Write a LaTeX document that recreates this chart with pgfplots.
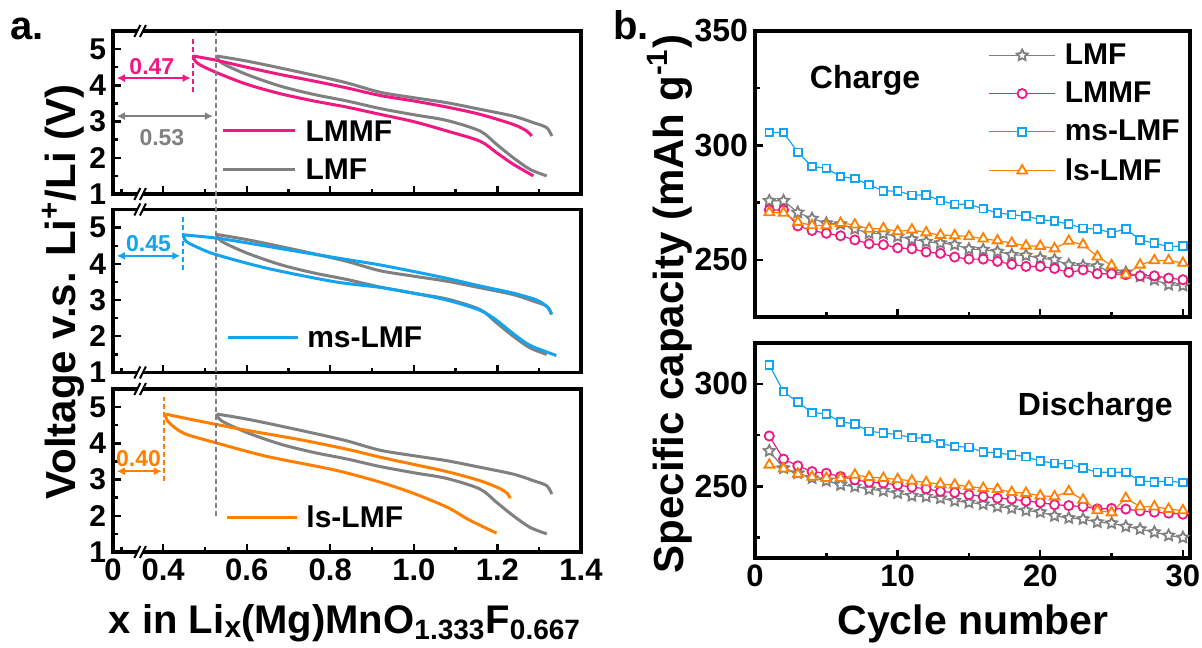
\documentclass[border=0pt]{standalone}
\usepackage{fontspec}
\setmainfont{Liberation Sans}
\usepackage{pgfplots}
\usepackage{pgfplotstable}
\pgfplotsset{compat=1.18}
\usetikzlibrary{arrows.meta,plotmarks}

\definecolor{cgray}{HTML}{808080}
\definecolor{cpink}{HTML}{F01882}
\definecolor{cblue}{HTML}{12A4EE}
\definecolor{corange}{HTML}{FF8000}

\newcommand{\fs}[1]{\fontsize{#1}{#1}\selectfont\bfseries}

% open five-pointed star
\pgfdeclareplotmark{ostar}{%
  \pgfpathmoveto{\pgfpointpolar{90}{\pgfplotmarksize}}%
  \pgfpathlineto{\pgfpointpolar{126}{0.5\pgfplotmarksize}}%
  \pgfpathlineto{\pgfpointpolar{162}{\pgfplotmarksize}}%
  \pgfpathlineto{\pgfpointpolar{198}{0.5\pgfplotmarksize}}%
  \pgfpathlineto{\pgfpointpolar{234}{\pgfplotmarksize}}%
  \pgfpathlineto{\pgfpointpolar{270}{0.5\pgfplotmarksize}}%
  \pgfpathlineto{\pgfpointpolar{306}{\pgfplotmarksize}}%
  \pgfpathlineto{\pgfpointpolar{342}{0.5\pgfplotmarksize}}%
  \pgfpathlineto{\pgfpointpolar{18}{\pgfplotmarksize}}%
  \pgfpathlineto{\pgfpointpolar{54}{0.5\pgfplotmarksize}}%
  \pgfpathclose\pgfusepathqfillstroke}

% voltage profiles (x in Li_x, V)
\pgfplotstableread{
x y
0.528 4.81
0.600 4.67
0.680 4.48
0.760 4.28
0.839 4.07
0.919 3.81
0.999 3.66
1.079 3.52
1.158 3.34
1.238 3.15
1.286 2.97
1.318 2.83
1.330 2.60
}\lmfup
\pgfplotstableread{
x y
0.528 4.81
0.540 4.62
0.600 4.30
0.680 3.98
0.760 3.75
0.839 3.57
0.919 3.36
0.999 3.19
1.079 3.03
1.158 2.74
1.198 2.37
1.238 2.00
1.278 1.68
1.318 1.50
}\lmflo
\pgfplotstableread{
x y
0.472 4.81
0.528 4.69
0.600 4.50
0.680 4.30
0.760 4.12
0.839 3.93
0.919 3.72
0.999 3.57
1.079 3.40
1.158 3.20
1.238 2.92
1.270 2.74
1.282 2.60
}\lmmfup
\pgfplotstableread{
x y
0.472 4.81
0.476 4.68
0.489 4.56
0.528 4.35
0.600 4.03
0.680 3.77
0.760 3.57
0.839 3.40
0.919 3.20
0.999 3.00
1.079 2.74
1.158 2.46
1.198 2.14
1.238 1.82
1.286 1.50
}\lmmflo
\pgfplotstableread{
x y
0.449 4.80
0.528 4.71
0.600 4.58
0.728 4.33
0.839 4.12
0.919 3.97
0.999 3.79
1.079 3.60
1.158 3.39
1.238 3.19
1.294 3.00
1.320 2.80
1.329 2.61
}\msup
\pgfplotstableread{
x y
0.449 4.80
0.455 4.62
0.489 4.42
0.528 4.25
0.648 3.88
0.808 3.51
0.919 3.35
0.999 3.19
1.079 3.00
1.158 2.72
1.198 2.44
1.238 2.07
1.278 1.75
1.341 1.47
}\mslo
\pgfplotstableread{
x y
0.405 4.81
0.450 4.70
0.528 4.52
0.600 4.36
0.728 4.10
0.839 3.84
0.919 3.62
0.999 3.42
1.079 3.22
1.158 2.97
1.206 2.75
1.225 2.60
1.230 2.48
}\lsup
\pgfplotstableread{
x y
0.405 4.81
0.412 4.60
0.449 4.28
0.528 4.01
0.648 3.64
0.808 3.27
0.919 2.93
0.999 2.62
1.079 2.24
1.127 1.92
1.158 1.74
1.198 1.52
}\lslo

% cycling capacity (mAh/g)
\pgfplotstableread{
c lmf lmmf ms ls
1 275.8 271.8 305.6 270.7
2 275.8 271.8 305.6 270.5
3 270.7 264.8 297.0 266.5
4 268.0 262.8 290.8 265.0
5 266.0 261.6 290.0 265.0
6 265.6 260.5 286.4 266.0
7 263.5 258.7 285.5 265.3
8 261.6 257.0 282.8 263.5
9 261.4 256.6 280.1 263.7
10 260.2 255.2 280.1 262.4
11 259.0 254.8 278.2 263.1
12 257.9 253.4 278.4 261.9
13 257.3 252.8 275.8 260.8
14 256.6 251.2 274.3 260.6
15 254.7 250.3 274.3 260.2
16 254.4 250.3 272.3 259.2
17 253.6 249.3 270.5 258.4
18 252.2 248.0 269.7 257.3
19 251.9 247.1 269.1 256.1
20 250.7 247.1 267.6 256.0
21 250.0 246.2 266.9 254.9
22 247.8 244.5 265.6 258.2
23 247.4 245.6 263.8 256.6
24 247.2 243.9 263.4 251.4
25 244.5 243.9 261.8 247.5
26 244.5 243.5 263.5 243.5
27 242.7 243.0 258.7 247.8
28 241.3 243.0 257.3 249.7
29 239.1 242.0 255.7 249.7
30 238.7 241.3 256.1 248.6
}\charge
\pgfplotstableread{
c lmf lmmf ms ls
1 267.3 274.6 309.3 260.5
2 258.9 263.3 296.2 258.6
3 256.4 260.0 291.1 256.0
4 254.0 257.2 286.0 254.6
5 252.7 256.4 285.4 254.0
6 250.7 254.8 281.5 254.0
7 249.9 253.2 280.5 255.6
8 248.6 252.0 276.9 254.5
9 247.8 251.6 276.1 254.0
10 246.7 250.7 275.2 253.4
11 245.4 249.6 273.8 252.7
12 245.0 248.8 273.4 251.9
13 244.2 247.5 270.9 251.1
14 242.9 247.0 269.5 250.7
15 242.1 245.9 269.1 249.9
16 241.3 245.0 266.8 249.1
17 240.1 244.2 266.3 248.6
18 239.3 243.8 265.4 247.1
19 238.2 242.8 264.5 246.7
20 237.4 242.1 262.3 245.4
21 235.6 241.0 261.3 245.0
22 234.5 240.6 260.8 247.5
23 234.0 240.1 258.9 243.4
24 232.5 239.0 256.9 238.2
25 232.0 239.2 256.9 237.2
26 230.4 238.9 256.9 244.2
27 229.1 238.0 252.7 240.1
28 227.6 237.4 252.2 240.1
29 226.0 236.9 252.5 238.9
30 225.0 236.4 251.9 238.2
}\discharge

\pgfplotsset{
  base/.style={
    scale only axis, clip=false,
    axis line style={line width=1.6pt},
    every tick/.style={black, line width=1.2pt},
    major tick length=4pt, minor tick length=2.5pt,
    tick pos=left, tick align=inside,
    /pgf/number format/assume math mode=true,
    tick label style={font=\fs{15.5}},
  },
  vpanel/.style={
    base, width=234pt, height=81.5pt,
    xmin=0.28, xmax=1.4, ymin=1, ymax=5.5,
    xtick={0.28,0.4,0.6,0.8,1.0,1.2,1.4},
    minor xtick={0.3,0.5,0.7,0.9,1.1,1.3},
    ytick={1,2,3,4,5}, minor ytick={1.5,2.5,3.5,4.5},
    xticklabels={},
    yticklabel style={font=\fs{15}},
  },
  cpanel/.style={
    base, width=217.5pt,
    xmin=0, xmax=30.5, xtick={0,10,20,30}, minor xtick={5,15,25},
    yticklabel style={font=\fs{16}},
    legend image code/.code={\draw[mark repeat=2,mark phase=2,##1] plot coordinates {(0pt,0pt) (16.5pt,0pt) (33pt,0pt)};},
  },
  vcurve/.style={line width=1.5pt, smooth},
  s1/.style={cgray, line width=0.6pt, mark=ostar, mark size=2.9pt, mark options={fill=white, line width=0.9pt}},
  s2/.style={cpink, line width=0.6pt, mark=*, mark size=2.3pt, mark options={fill=white, line width=0.9pt}},
  s3/.style={cblue, line width=0.6pt, mark=square*, mark size=1.9pt, mark options={fill=white, line width=0.9pt}},
  s4/.style={corange, line width=0.6pt, mark=triangle*, mark size=2.8pt, mark options={fill=white, line width=0.9pt}},
}

\newcommand{\brk}[1]{%
  \fill[white] ([xshift=-1.4pt,yshift=-1.5pt]#1) rectangle ([xshift=1.4pt,yshift=1.5pt]#1);
  \draw[black, line width=1pt] ([xshift=-2.9pt,yshift=-3pt]#1) -- ++(3pt,6pt);
  \draw[black, line width=1pt] ([xshift=-0.1pt,yshift=-3pt]#1) -- ++(3pt,6pt);
}

\begin{document}
\begin{tikzpicture}
\path[use as bounding box] (0,0) rectangle (601pt,-323.5pt);

% a. top: LMF vs LMMF
\begin{axis}[vpanel, at={(56.5pt,-15.5pt)}, anchor=north west]
\addplot[cgray, vcurve] table {\lmfup};
\addplot[cgray, vcurve] table {\lmflo};
\addplot[cpink, vcurve] table {\lmmfup};
\addplot[cpink, vcurve] table {\lmmflo};
\draw[cpink, line width=0.9pt, dash pattern=on 2.5pt off 1.5pt] (axis cs:0.472,3.82) -- (axis cs:0.472,5.31);
\draw[cpink, line width=1pt, {Latex[length=4pt,width=4pt]}-{Latex[length=4pt,width=4pt]}] (axis cs:0.289,4.2) -- (axis cs:0.466,4.2);
\node[cpink, font=\fs{11.5}] at (axis cs:0.373,4.53) {0.47};
\draw[cgray, line width=1pt, {Latex[length=4pt,width=4pt]}-{Latex[length=4pt,width=4pt]}] (axis cs:0.289,3.15) -- (axis cs:0.519,3.15);
\node[cgray, font=\fs{11.5}] at (axis cs:0.397,2.55) {0.53};
\draw[cpink, line width=1.5pt] (axis cs:0.544,2.74) -- (axis cs:0.716,2.74);
\node[anchor=west, font=\fs{15}, inner sep=0pt] at (axis cs:0.74,2.74) {LMMF};
\draw[cgray, line width=1.5pt] (axis cs:0.544,1.69) -- (axis cs:0.716,1.69);
\node[anchor=west, font=\fs{15}, inner sep=0pt] at (axis cs:0.74,1.69) {LMF};
\coordinate (b1t) at (axis cs:0.345,5.5);
\coordinate (b1b) at (axis cs:0.345,1);
\coordinate (gtop) at (axis cs:0.527,5.5);
\end{axis}

% a. middle: LMF vs ms-LMF
\begin{axis}[vpanel, at={(56.5pt,-104.75pt)}, anchor=north west]
\addplot[cgray, vcurve] table {\lmfup};
\addplot[cgray, vcurve] table {\lmflo};
\addplot[cblue, vcurve] table {\msup};
\addplot[cblue, vcurve] table {\mslo};
\draw[cblue, line width=0.9pt, dash pattern=on 2.5pt off 1.5pt] (axis cs:0.447,3.83) -- (axis cs:0.447,5.36);
\draw[cblue, line width=1pt, {Latex[length=4pt,width=4pt]}-{Latex[length=4pt,width=4pt]}] (axis cs:0.289,4.22) -- (axis cs:0.441,4.22);
\node[cblue, font=\fs{11.5}] at (axis cs:0.365,4.57) {0.45};
\draw[cblue, line width=1.5pt] (axis cs:0.555,1.97) -- (axis cs:0.723,1.97);
\node[anchor=west, font=\fs{15}, inner sep=0pt] at (axis cs:0.744,1.97) {ms-LMF};
\coordinate (b2t) at (axis cs:0.345,5.5);
\coordinate (b2b) at (axis cs:0.345,1);
\end{axis}

% a. bottom: LMF vs ls-LMF
\begin{axis}[vpanel, at={(56.5pt,-194.5pt)}, anchor=north west,
  xticklabels={0,0.4,0.6,0.8,1.0,1.2,1.4}]
\addplot[cgray, vcurve] table {\lmfup};
\addplot[cgray, vcurve] table {\lmflo};
\addplot[corange, vcurve] table {\lsup};
\addplot[corange, vcurve] table {\lslo};
\draw[corange, line width=0.9pt, dash pattern=on 2.5pt off 1.5pt] (axis cs:0.403,2.95) -- (axis cs:0.403,5.28);
\draw[corange, line width=1pt, {Latex[length=4pt,width=4pt]}-{Latex[length=4pt,width=4pt]}] (axis cs:0.289,3.23) -- (axis cs:0.397,3.23);
\node[corange, font=\fs{11.5}] at (axis cs:0.341,3.59) {0.40};
\draw[corange, line width=1.5pt] (axis cs:0.552,1.96) -- (axis cs:0.720,1.96);
\node[anchor=west, font=\fs{15}, inner sep=0pt] at (axis cs:0.742,1.96) {ls-LMF};
\coordinate (b3t) at (axis cs:0.345,5.5);
\coordinate (b3b) at (axis cs:0.345,1);
\coordinate (gbot) at (axis cs:0.527,2.0);
\end{axis}

\draw[cgray, line width=0.9pt, dash pattern=on 2.5pt off 1.5pt] (gtop) -- (gbot);
\brk{b1t}\brk{b1b}\brk{b2t}\brk{b2b}\brk{b3t}\brk{b3b}

% b. charge
\begin{axis}[cpanel, at={(377.5pt,-15.5pt)}, anchor=north west, height=143pt,
  ymin=225, ymax=350, ytick={250,300,350}, minor ytick={275,325}, xticklabels={},
  legend style={at={(0.536,0.968)}, anchor=north west, draw=none, fill=none,
    font=\fs{15}, row sep=4.3pt, column sep=3pt, inner sep=0pt, nodes={inner sep=1.5pt}},
  legend cell align=left]
\addplot[s1] table[x=c, y=lmf] {\charge};
\addplot[s2] table[x=c, y=lmmf] {\charge};
\addplot[s3] table[x=c, y=ms] {\charge};
\addplot[s4] table[x=c, y=ls] {\charge};
\legend{LMF, LMMF, ms-LMF, ls-LMF}
\node[font=\fs{16}] at (axis cs:7.72,328.6) {Charge};
\end{axis}

% b. discharge
\begin{axis}[cpanel, at={(377.5pt,-171.5pt)}, anchor=north west, height=107.5pt,
  ymin=215, ymax=320, ytick={250,300}, minor ytick={225,275}]
\addplot[s1] table[x=c, y=lmf] {\discharge};
\addplot[s2] table[x=c, y=lmmf] {\discharge};
\addplot[s3] table[x=c, y=ms] {\discharge};
\addplot[s4] table[x=c, y=ls] {\discharge};
\node[font=\fs{16}] at (axis cs:23.86,288.8) {Discharge};
\end{axis}

% labels
\node[rotate=90, anchor=base, font=\fs{21}] at (37.5pt,-146pt) {Voltage v.s. Li\textsuperscript{+}/Li (V)};
\node[rotate=90, anchor=base, font=\fs{21}] at (341.5pt,-152pt) {Specific capacity (mAh g\textsuperscript{-1})};
\node[anchor=base, font=\fs{20}] at (172.5pt,-316.5pt) {x in Li\raisebox{-2pt}{\fs{15}x}(Mg)MnO\textsubscript{1.333}F\textsubscript{0.667}};
\node[anchor=base, font=\fs{20.5}] at (486.5pt,-317pt) {Cycle number};
\node[anchor=base west, font=\fs{20}, inner sep=0pt] at (5pt,-20pt) {a.};
\node[anchor=base west, font=\fs{20}, inner sep=0pt] at (306.5pt,-20pt) {b.};
\end{tikzpicture}
\end{document}
